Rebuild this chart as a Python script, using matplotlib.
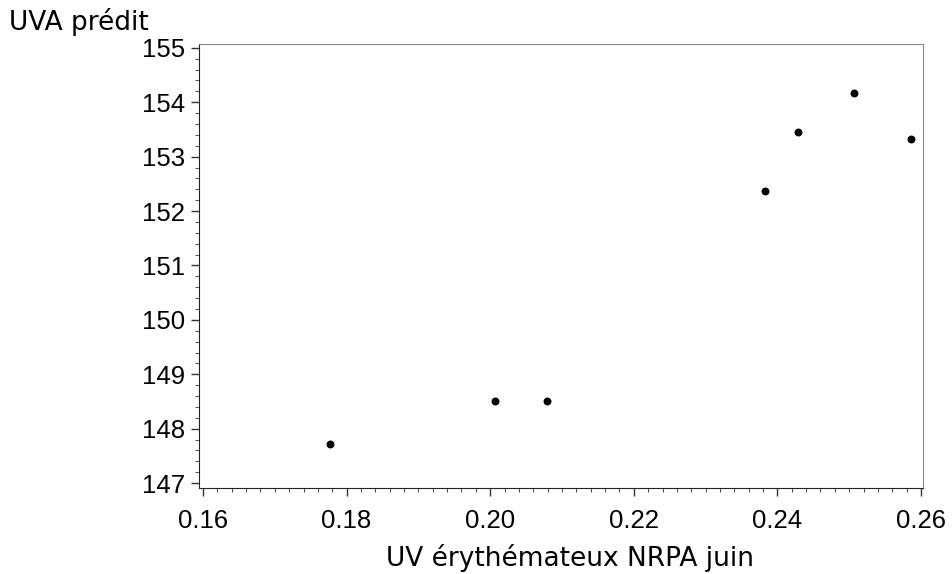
import matplotlib
matplotlib.use("Agg")
import matplotlib.pyplot as plt
from matplotlib.ticker import MultipleLocator

# data
uv_ery = [0.1777, 0.2007, 0.2079, 0.2383, 0.2429, 0.2507, 0.2586]
uva_pred = [147.72, 148.50, 148.50, 152.36, 153.46, 154.17, 153.33]

x_ticks = [0.16, 0.18, 0.20, 0.22, 0.24, 0.26]
x_tick_labels = ["0.16", "0.18", "0.20", "0.22", "0.24", "0.26"]
y_ticks = [147, 148, 149, 150, 151, 152, 153, 154, 155]

fig = plt.figure(figsize=(9.52, 5.74), dpi=100)
ax = fig.add_axes([199 / 952, 1 - 488 / 574, (923 - 199) / 952, (488 - 44) / 574])

ax.scatter(uv_ery, uva_pred, s=22, color="black", zorder=3)

ax.set_xlim(0.15944, 0.26028)
ax.set_ylim(146.91, 155.07)
ax.set_xticks(x_ticks)
ax.set_xticklabels(x_tick_labels)
ax.set_yticks(y_ticks)
ax.xaxis.set_minor_locator(MultipleLocator(0.002))
ax.yaxis.set_minor_locator(MultipleLocator(0.2))

for lab in ax.get_xticklabels() + ax.get_yticklabels():
    lab.set_family("Liberation Sans")
    lab.set_fontsize(18.5)

ax.tick_params(which="major", length=6, width=1, color="#333333", pad=4)
ax.tick_params(which="minor", length=3, width=0.8, color="#555555")
ax.tick_params(axis="x", which="major", pad=9)

ax.spines["left"].set_color("#222222")
ax.spines["bottom"].set_color("#222222")
ax.spines["top"].set_color("#888888")
ax.spines["right"].set_color("#888888")

ax.set_xlabel("UV érythémateux NRPA juin", fontsize=19, family="DejaVu Sans")
ax.xaxis.set_label_coords(0.512, -0.125)
fig.text(9 / 952, 1 - 22 / 574, "UVA prédit", fontsize=19, family="DejaVu Sans", va="center", ha="left")

fig.savefig("out.png", dpi=100)
